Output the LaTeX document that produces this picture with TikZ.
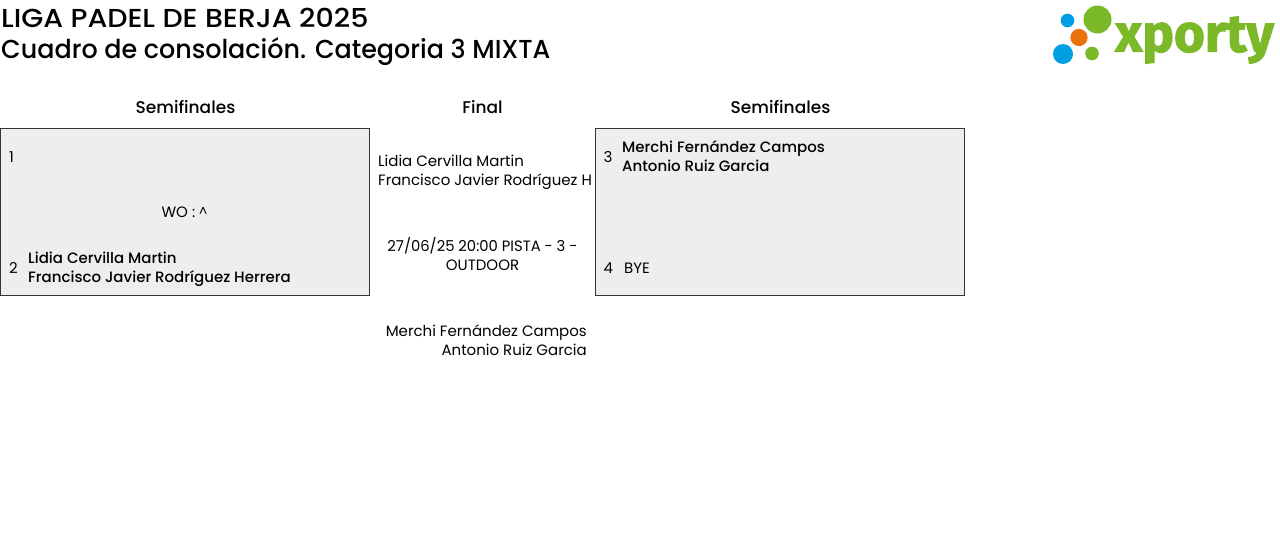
\documentclass[tikz,border=0pt]{standalone}
\usepackage{fontspec}
\setmainfont{Poppins}
\newfontfamily\medfont{Poppins Medium}
\newfontfamily\logofont[BoldFeatures={FakeBold=2}]{Fira Sans}
\definecolor{boxgray}{HTML}{EEEEEE}
\definecolor{xgreen}{HTML}{7CB928}
\definecolor{xblue}{HTML}{009FE3}
\definecolor{xorange}{HTML}{E8710A}
\tikzset{
  drawbox/.style={draw=black!80,fill=boxgray,line width=0.8pt,outer sep=0pt,minimum width=369pt,minimum height=167pt,inner sep=0pt,anchor=north west},
  txt/.style={inner sep=0pt,font=\fontsize{15}{19}\selectfont,text=black},
  team/.style={txt,font=\fontsize{15}{19}\medfont,align=left,anchor=west},
  seed/.style={txt,anchor=west},
  head/.style={inner sep=0pt,font=\fontsize{17}{20}\medfont},
  title/.style={inner sep=0pt,anchor=west,font=\fontsize{26}{30}\medfont}
}
\begin{document}
\begin{tikzpicture}[x=1pt,y=-1pt]
\useasboundingbox (0,0) rectangle (1280,547);
\node[title] (title1) at (1,17.5) {\scalebox{1.095}[1]{LIGA PADEL DE BERJA 2025}};
\node[title] (title2) at (1,51.5) {\scalebox{0.977}[1]{Cuadro de consolación. Categoria 3 MIXTA}};
% logo
\fill[xgreen] (1097.5,19.5) circle (14);
\fill[xblue] (1067.5,20.5) circle (6.8);
\fill[xorange] (1079,37.5) circle (8.6);
\fill[xblue] (1063,54) circle (10);
\fill[xgreen] (1092,53.5) circle (6.8);
\node[inner sep=0pt,anchor=west,text=xgreen] (logo) at (1115,40) {\logofont\bfseries\fontsize{53}{53}\selectfont xporty};
% headers
\node[head] (semi1) at (185.5,107) {Semifinales};
\node[head] (final) at (482.5,107) {Final};
\node[head] (semi2) at (780.5,107) {Semifinales};
% final column
\node[txt,align=left,anchor=west] (top) at (378,172) {Lidia Cervilla Martin\\Francisco Javier Rodríguez H};
\node[txt,align=center] (match) at (482.5,253.5) {\scalebox{0.985}[1]{27/06/25 20:00 PISTA - 3 -}\\OUTDOOR};
\node[txt,align=right,anchor=east] (bottom) at (587,340) {Merchi Fernández Campos\\Antonio Ruiz Garcia};
% boxes
\node[drawbox] (box1) at (0.5,128.5) {};
\node[drawbox] (box2) at (595.5,128.5) {};
\node[seed] (s1) at (9,157) {1};
\node[seed] (s2) at (9,268) {2};
\node[txt] (wo) at (184.5,212.5) {WO : \raisebox{0.1ex}{\fontsize{13}{13}\selectfont\char"5E}};
\node[team] (t2) at (28,269) {Lidia Cervilla Martin\\Francisco Javier Rodríguez Herrera};
\node[seed] (s3) at (603.5,157) {3};
\node[seed] (s4) at (603.5,268) {4};
\node[team] (t3) at (622,156) {Merchi Fernández Campos\\Antonio Ruiz Garcia};
\node[txt,anchor=west] (t4) at (624,268) {BYE};
\end{tikzpicture}
\end{document}
